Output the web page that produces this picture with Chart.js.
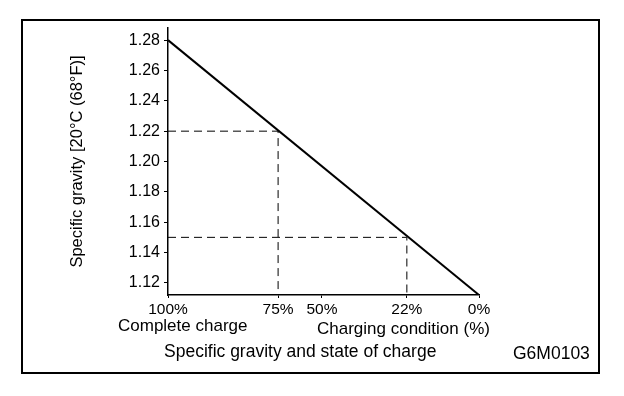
<!DOCTYPE html>
<html>
<head>
<meta charset="utf-8">
<script src="https://cdn.jsdelivr.net/npm/chart.js@4/dist/chart.umd.min.js"></script>
<style>
body { margin: 0; background: #fff; }
#wrap { position: relative; width: 624px; height: 396px; }
#frame { position: absolute; left: 21px; top: 19px; width: 575px; height: 351px; border: 2px solid #000; }
canvas { position: absolute; left: 0; top: 0; }
.note { position: absolute; font: 17px "Liberation Sans", Arial, sans-serif; color: #000; white-space: nowrap; line-height: 1; }
</style>
</head>
<body>
<div id="wrap">
  <div id="frame"></div>
  <canvas id="sgChart" width="624" height="396"></canvas>
  <div class="note" style="left:118px;top:317px">Complete charge</div>
  <div class="note" style="left:317px;top:320px">Charging condition (%)</div>
  <div class="note" style="left:164px;top:343px;font-size:17.5px">Specific gravity and state of charge</div>
  <div class="note" style="left:513px;top:345px;font-size:17.5px">G6M0103</div>
</div>
<script>
// data
const chargeTicks = [100, 75, 50, 22, 0];
const chargeLabels = ['100%', '75%', '50%', '22%', '0%'];
const gravityTicks = [1.12, 1.14, 1.16, 1.18, 1.20, 1.22, 1.24, 1.26, 1.28];
const lineCharge = [100, 0];
const lineGravity = [1.28, 1.112];
const markCharge = [75, 22];
const markGravity = [1.22, 1.15];
const gravityMin = 1.112, gravityMax = 1.288;

// the printed charge axis is not evenly spaced, so map it piece by piece
const axisSpots = [0, 0.354, 0.495, 0.768, 1];

class ChargeScale extends Chart.LinearScale {
  static id = 'charge';
  static defaults = Chart.LinearScale.defaults;
  getPixelForValue(value) {
    if (value === null || value === undefined) return NaN;
    for (let i = 0; i < chargeTicks.length - 1; i++) {
      const a = chargeTicks[i], b = chargeTicks[i + 1];
      if (value <= a && value >= b) {
        const t = (a - value) / (a - b);
        return this.getPixelForDecimal(axisSpots[i] + t * (axisSpots[i + 1] - axisSpots[i]));
      }
    }
    return this.getPixelForDecimal((100 - value) / 100);
  }
  getValueForPixel(pixel) {
    const d = this.getDecimalForPixel(pixel);
    for (let i = 0; i < axisSpots.length - 1; i++) {
      if (d >= axisSpots[i] && d <= axisSpots[i + 1]) {
        const t = (d - axisSpots[i]) / (axisSpots[i + 1] - axisSpots[i]);
        return chargeTicks[i] + t * (chargeTicks[i + 1] - chargeTicks[i]);
      }
    }
    return 100 - d * 100;
  }
}
Chart.register(ChargeScale);

const mainLine = lineCharge.map((c, i) => ({ x: c, y: lineGravity[i] }));
const guideSets = markCharge.map((c, i) => ({
  data: [
    { x: 100, y: markGravity[i] },
    { x: c, y: markGravity[i] },
    { x: c, y: gravityMin }
  ],
  borderColor: '#000',
  borderWidth: 1,
  borderDash: [8, 5],
  pointRadius: 0,
  showLine: true
}));

const font = { family: '"Liberation Sans", Arial, sans-serif', size: 15.5 };

var ctx = document.getElementById('sgChart').getContext('2d');
var myChart = new Chart(ctx, {
  type: 'scatter',
  data: {
    datasets: [{
      data: mainLine,
      borderColor: '#000',
      borderWidth: 2,
      pointRadius: 0,
      showLine: true
    }].concat(guideSets)
  },
  options: {
    responsive: false,
    animation: false,
    layout: { padding: { left: 40, right: 145, top: 28, bottom: 81 } },
    plugins: { legend: { display: false }, tooltip: { enabled: false } },
    scales: {
      x: {
        type: 'charge',
        min: 0,
        max: 100,
        afterBuildTicks: s => { s.ticks = chargeTicks.map(v => ({ value: v })); },
        afterFit: s => { s.height = 20; },
        ticks: {
          autoSkip: false,
          maxRotation: 0,
          padding: 2,
          color: '#000',
          font: font,
          callback: (v) => chargeLabels[chargeTicks.indexOf(v)]
        },
        grid: { drawOnChartArea: false, tickLength: 3, color: '#000' },
        border: { color: '#000', width: 1.5 }
      },
      y: {
        min: gravityMin,
        max: gravityMax,
        afterBuildTicks: s => { s.ticks = gravityTicks.map(v => ({ value: v })); },
        afterFit: s => { s.width = 128; },
        ticks: {
          padding: 4,
          color: '#000',
          font: { family: font.family, size: 16 },
          callback: v => v.toFixed(2)
        },
        grid: { drawOnChartArea: false, tickLength: 4, color: '#000' },
        border: { color: '#000', width: 1.5 },
        title: {
          display: true,
          text: 'Specific gravity [20°C (68°F)]',
          color: '#000',
          font: { family: font.family, size: 16.5 },
          padding: { top: 28, bottom: 0 }
        }
      }
    }
  }
});
</script>
</body>
</html>
